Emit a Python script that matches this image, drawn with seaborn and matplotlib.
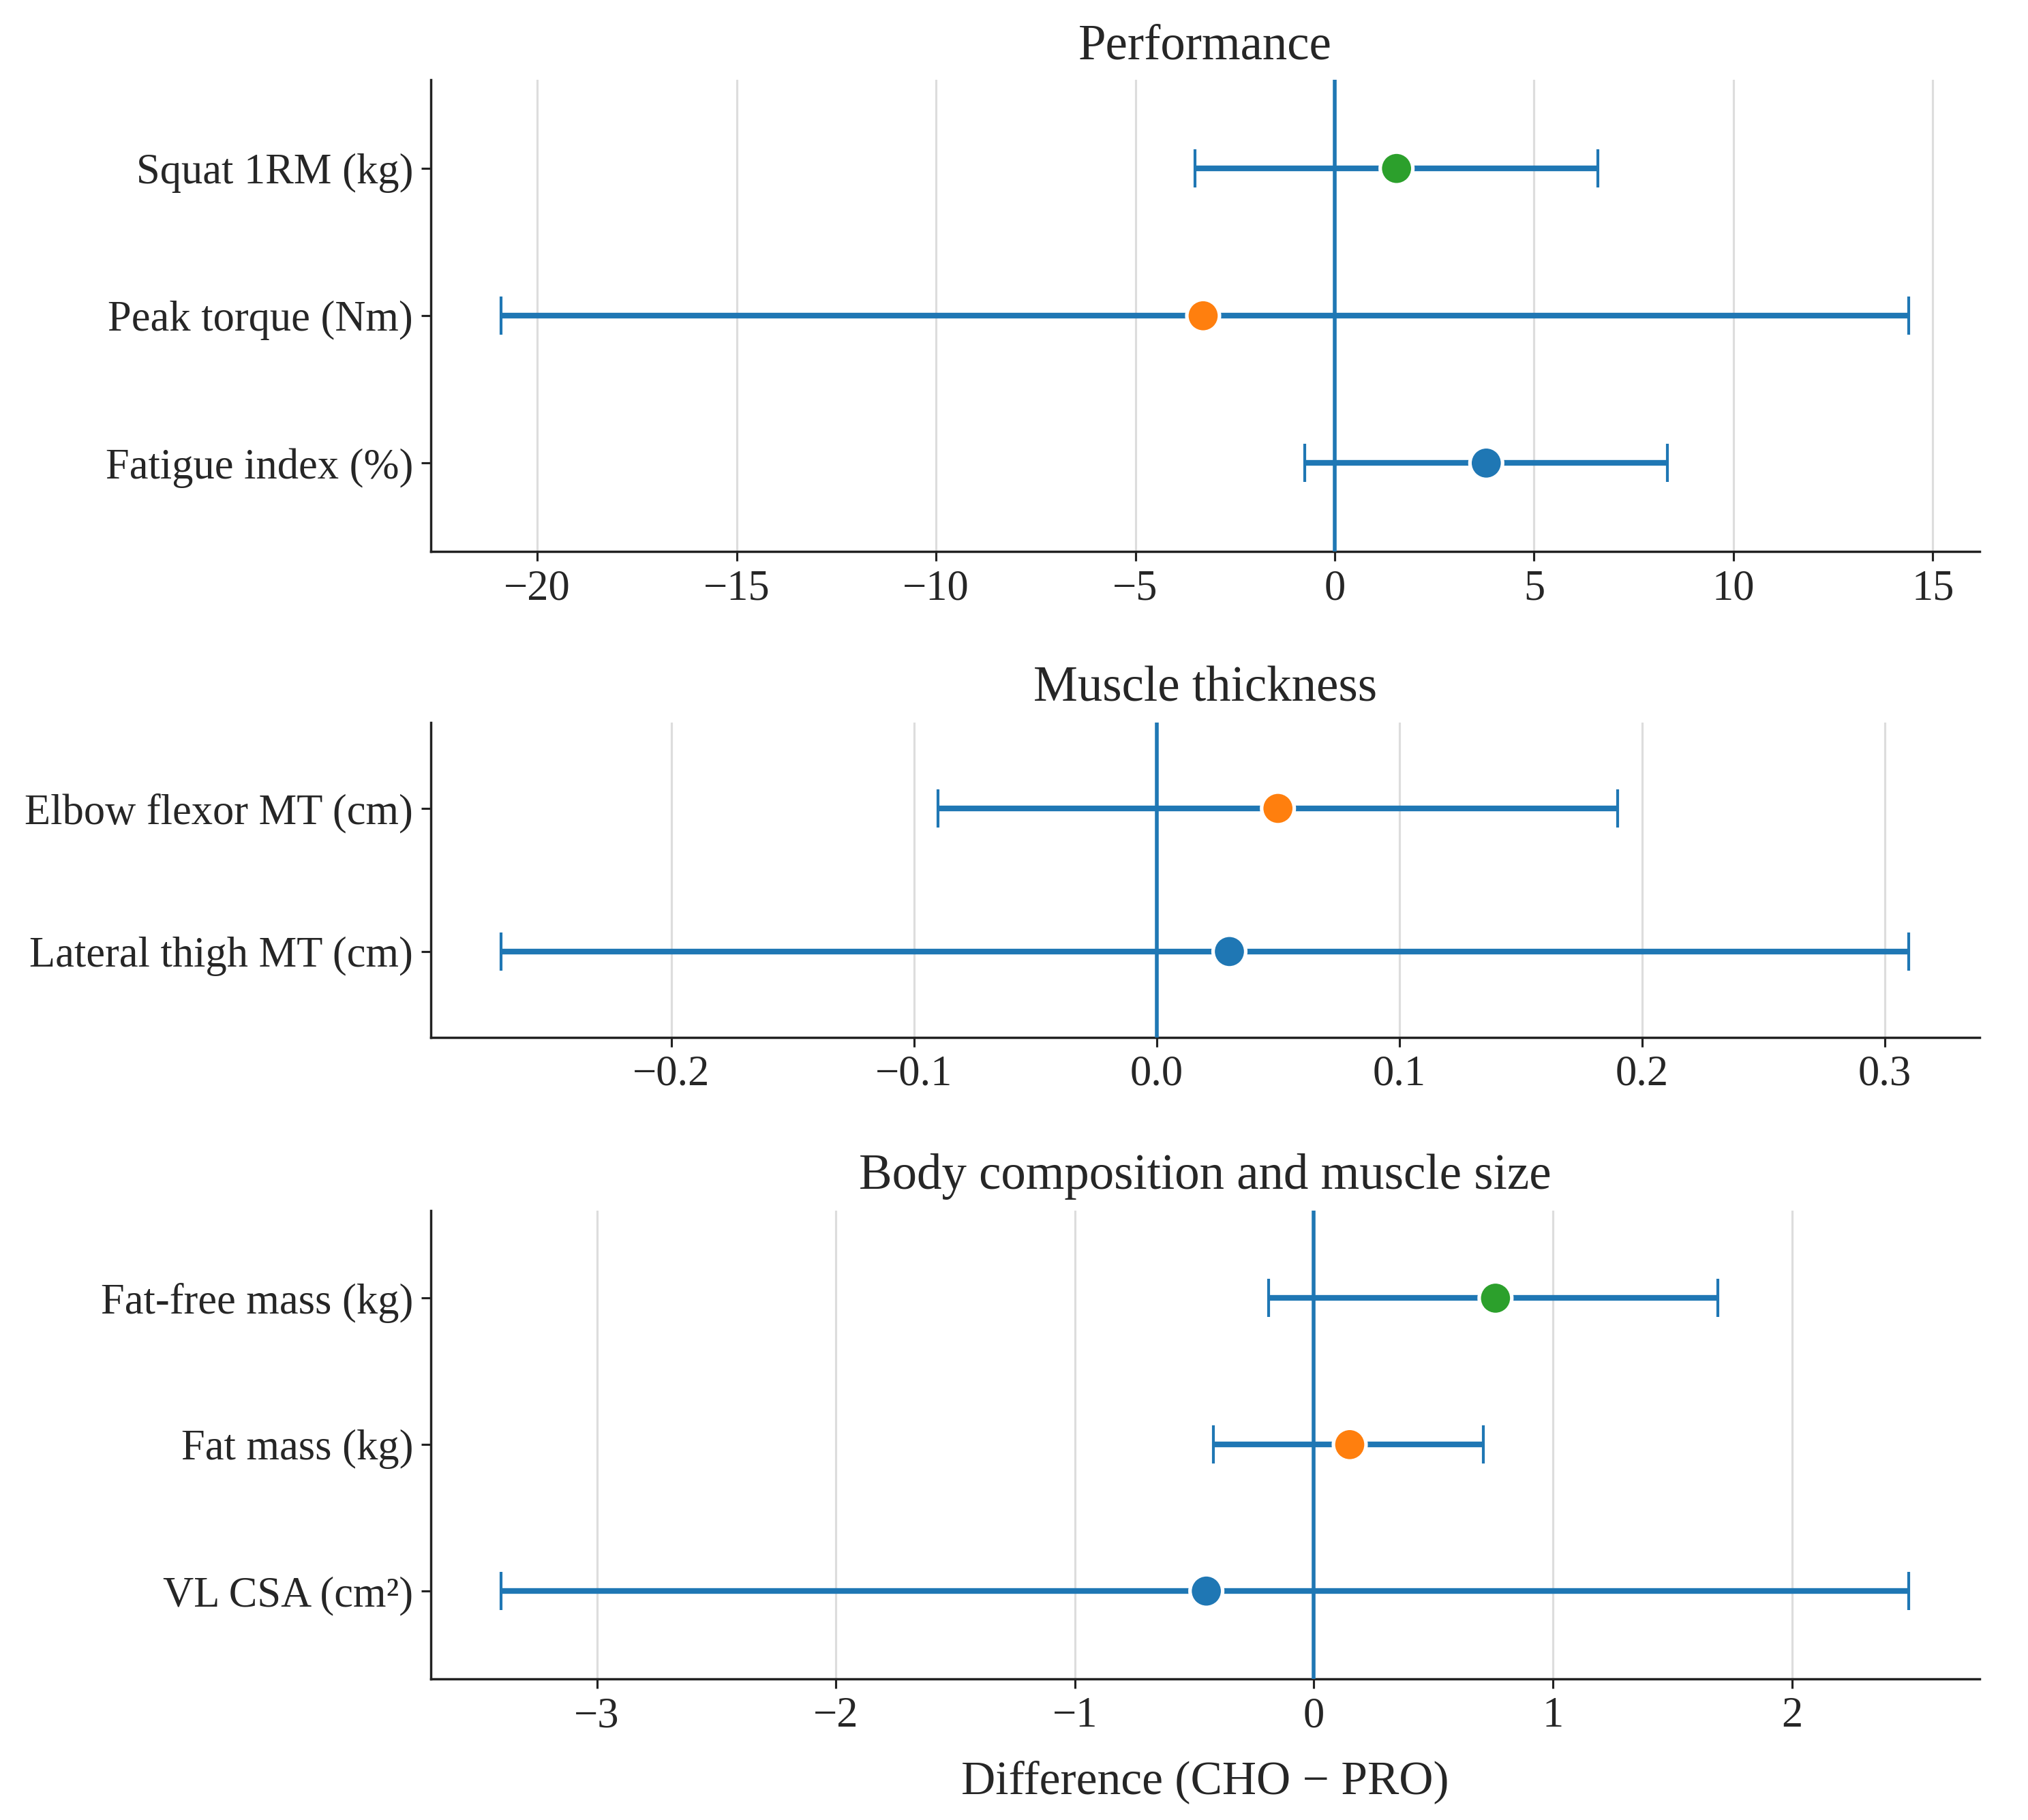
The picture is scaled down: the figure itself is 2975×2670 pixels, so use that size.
import numpy as np
import pandas as pd
import seaborn as sns
import matplotlib.pyplot as plt

# ---- DATA ----
perf_labels = ["Squat 1RM (kg)", "Peak torque (Nm)", "Fatigue index (%)"]
perf_est = [1.55, -3.3, 3.8]
perf_lo = [-3.5, -20.9, -0.75]
perf_hi = [6.6, 14.4, 8.35]

mt_labels = ["Elbow flexor MT (cm)", "Lateral thigh MT (cm)"]
mt_est = [0.05, 0.03]
mt_lo = [-0.09, -0.27]
mt_hi = [0.19, 0.31]

body_labels = ["Fat-free mass (kg)", "Fat mass (kg)", "VL CSA (cm²)"]
body_est = [0.76, 0.15, -0.45]
body_lo = [-0.19, -0.42, -3.4]
body_hi = [1.69, 0.71, 2.49]

titles = ["Performance", "Muscle thickness", "Body composition and muscle size"]
point_colors = ["#2ca02c", "#ff7f0e", "#1f77b4"]
bar_color = "#1f77b4"

sns.set_theme(style="ticks")
plt.rcParams['font.family'] = ['Liberation Serif', 'DejaVu Serif']
plt.rcParams['axes.unicode_minus'] = True

fig = plt.figure(figsize=(11.9, 10.68), dpi=250)

# axes rects: [left, bottom, width, height]
rects = [
    [0.2125, 0.697, 0.7635, 0.259],
    [0.2125, 0.430, 0.7635, 0.173],
    [0.2125, 0.0775, 0.7635, 0.2575],
]

panels = [
    (perf_labels, perf_est, perf_lo, perf_hi, [-20, -15, -10, -5, 0, 5, 10, 15], None),
    (mt_labels, mt_est, mt_lo, mt_hi, [-0.2, -0.1, 0.0, 0.1, 0.2, 0.3], "{:.1f}"),
    (body_labels, body_est, body_lo, body_hi, [-3, -2, -1, 0, 1, 2], None),
]

for i, (labels, est, lo, hi, ticks, fmt) in enumerate(panels):
    ax = fig.add_axes(rects[i])
    df = pd.DataFrame({"label": labels, "est": est, "lo": lo, "hi": hi})
    df["ypos"] = np.arange(len(df))

    # green / orange / blue from the top; two-row panel uses orange, blue
    pal = point_colors[-len(df):]

    ax.errorbar(df["est"], df["ypos"],
                xerr=[df["est"] - df["lo"], df["hi"] - df["est"]],
                fmt="none", ecolor=bar_color, elinewidth=2.4,
                capsize=8, capthick=1.2, zorder=2)
    sns.scatterplot(data=df, x="est", y="ypos", hue="label", palette=pal,
                    s=190, edgecolor="white", linewidth=1.5,
                    legend=False, zorder=4, ax=ax)
    ax.axvline(0, color=bar_color, lw=1.6, zorder=3)

    ax.set_yticks(df["ypos"], df["label"])
    ax.set_ylim(len(df) - 0.4, -0.6)
    ax.set_xticks(ticks)
    if fmt:
        ax.set_xticklabels([fmt.format(t).replace("-", "\u2212") for t in ticks])
    ax.grid(axis="x", color="#dddddd", lw=0.9)
    ax.set_axisbelow(True)
    ax.set_ylabel("")
    ax.set_xlabel("")
    ax.set_title(titles[i], fontsize=21, pad=9)
    ax.tick_params(labelsize=18, length=4, width=0.9, color="#222222")
    for side in ["top", "right"]:
        ax.spines[side].set_visible(False)
    for side in ["left", "bottom"]:
        ax.spines[side].set_color("#222222")
        ax.spines[side].set_linewidth(1.0)

ax.set_xlabel("Difference (CHO \u2212 PRO)", fontsize=20, labelpad=10)

fig.savefig("out.png", dpi=250)
